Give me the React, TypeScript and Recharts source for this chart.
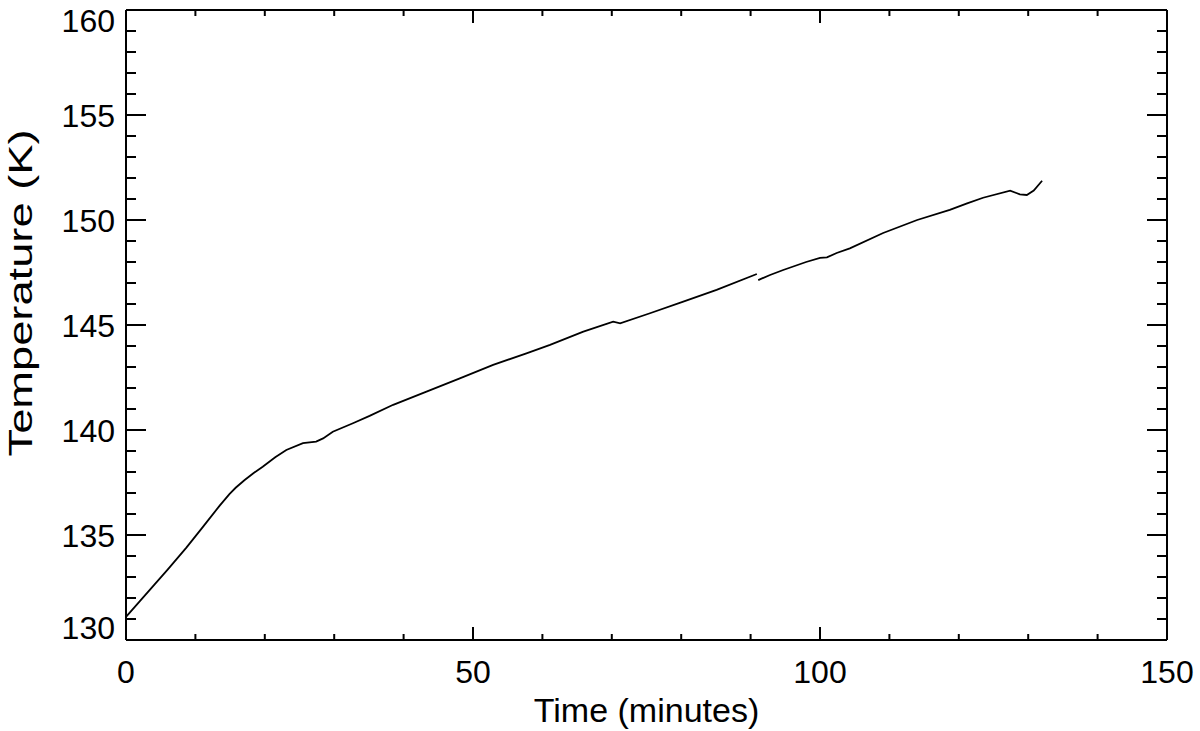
import { Line, LineChart, XAxis, YAxis } from "recharts";

// time (minutes) and temperature (K); null = gap in the record
const TIME_MIN = [
  0, 2, 4, 6, 8.7, 11, 13.5, 14.9, 15.8, 17.1, 18.4, 19.7, 21.5, 23.1, 25.5, 27.4, 28.4,
  29.8, 32.7, 35.1, 38.5, 43.3, 48.1, 52.9, 57.7, 61.1, 65.9, 70.2, 71.2, 75.5, 80.3,
  85.1, 90.9, 91.0, 91.1, 92.8, 94.7, 98, 100, 101, 102.4, 104.3, 109.1, 114, 118.7,
  121.2, 123.5, 127.4, 128.8, 129.8, 130.8, 132,
];
const TEMP_K: (number | null)[] = [
  131.1, 131.85, 132.6, 133.35, 134.4, 135.35, 136.4, 136.95, 137.25, 137.62, 137.95,
  138.25, 138.7, 139.05, 139.37, 139.45, 139.6, 139.92, 140.32, 140.67, 141.2, 141.83,
  142.46, 143.1, 143.65, 144.05, 144.68, 145.16, 145.08, 145.56, 146.11, 146.67, 147.43,
  null, 147.14, 147.38, 147.62, 148.0, 148.2, 148.22, 148.43, 148.65, 149.38, 150.0,
  150.48, 150.79, 151.06, 151.4, 151.22, 151.19, 151.4, 151.87,
];

const X_TICKS = [0, 10, 20, 30, 40, 50, 60, 70, 80, 90, 100, 110, 120, 130, 140, 150];
const X_MAJOR = [0, 50, 100, 150];
const Y_TICKS = [
  130, 131, 132, 133, 134, 135, 136, 137, 138, 139, 140, 141, 142, 143, 144, 145,
  146, 147, 148, 149, 150, 151, 152, 153, 154, 155, 156, 157, 158, 159, 160,
];
const Y_MAJOR = [130, 135, 140, 145, 150, 155, 160];

const data = TIME_MIN.map((t, i) => ({ t, temp: TEMP_K[i] }));

const FONT = "'Liberation Sans', Arial, Helvetica, sans-serif";
const INK = "#000";

function BottomTick({ x, y, payload }: any) {
  const major = X_MAJOR.includes(payload.value);
  return (
    <g>
      <line x1={x} x2={x} y1={y} y2={y - (major ? 13 : 6)} stroke={INK} strokeWidth={2} />
      {major && (
        <text x={x} y={y + 43} textAnchor="middle" fontSize={32} fontFamily={FONT} fill={INK}>
          {payload.value}
        </text>
      )}
    </g>
  );
}

function TopTick({ x, y, payload }: any) {
  const major = X_MAJOR.includes(payload.value);
  return <line x1={x} x2={x} y1={y} y2={y + (major ? 13 : 6)} stroke={INK} strokeWidth={2} />;
}

function LeftTick({ x, y, payload }: any) {
  const v = payload.value;
  const major = Y_MAJOR.includes(v);
  // edge labels are nudged inside the frame, like the original
  let base = y + 12;
  if (v === 160) base = y + 22;
  if (v === 130) base = y - 1;
  return (
    <g>
      <line x1={x} x2={x + (major ? 20 : 10)} y1={y} y2={y} stroke={INK} strokeWidth={2} />
      {major && (
        <text x={x - 11} y={base} textAnchor="end" fontSize={32} fontFamily={FONT} fill={INK}>
          {v}
        </text>
      )}
    </g>
  );
}

function RightTick({ x, y, payload }: any) {
  const major = Y_MAJOR.includes(payload.value);
  return <line x1={x} x2={x - (major ? 20 : 10)} y1={y} y2={y} stroke={INK} strokeWidth={2} />;
}

function XTitle({ viewBox }: any) {
  return (
    <text x={viewBox.x + viewBox.width / 2} y={viewBox.y + 82} textAnchor="middle" fontSize={34} fontFamily={FONT} fill={INK}>
      Time (minutes)
    </text>
  );
}

function YTitle({ viewBox }: any) {
  const cx = 20;
  const cy = viewBox.y + 283;
  return (
    <text
      x={cx}
      y={cy}
      transform={`rotate(-90 ${cx} ${cy})`}
      textAnchor="middle"
      dominantBaseline="central"
      fontSize={33}
      fontFamily={FONT}
      fill={INK}
      textLength={327}
      lengthAdjust="spacingAndGlyphs"
    >
      Temperature (K)
    </text>
  );
}

export default function App() {
  return (
    <div style={{ position: "absolute", left: 0, top: 0, background: "#fff" }}>
      <LineChart width={1200} height={731} data={data} margin={{ top: 9, right: 32, left: 0, bottom: 0 }}>
        <XAxis
          dataKey="t"
          type="number"
          domain={[0, 150]}
          ticks={X_TICKS}
          interval={0}
          height={91}
          tickSize={0}
          tickMargin={0}
          tick={<BottomTick />}
          axisLine={{ stroke: INK, strokeWidth: 2 }}
          label={<XTitle />}
        />
        <XAxis
          xAxisId="top"
          orientation="top"
          dataKey="t"
          type="number"
          domain={[0, 150]}
          ticks={X_TICKS}
          interval={0}
          height={1}
          tickSize={0}
          tickMargin={0}
          tick={<TopTick />}
          axisLine={{ stroke: INK, strokeWidth: 2 }}
        />
        <YAxis
          type="number"
          domain={[130, 160]}
          ticks={Y_TICKS}
          interval={0}
          width={126}
          tickSize={0}
          tickMargin={0}
          tick={<LeftTick />}
          axisLine={{ stroke: INK, strokeWidth: 2 }}
          label={<YTitle />}
        />
        <YAxis
          yAxisId="right"
          orientation="right"
          type="number"
          domain={[130, 160]}
          ticks={Y_TICKS}
          interval={0}
          width={1}
          tickSize={0}
          tickMargin={0}
          tick={<RightTick />}
          axisLine={{ stroke: INK, strokeWidth: 2 }}
        />
        <Line
          type="linear"
          dataKey="temp"
          stroke={INK}
          strokeWidth={1.8}
          dot={false}
          connectNulls={false}
          isAnimationActive={false}
        />
        {/* invisible copy so the mirrored top/right axes get their ticks */}
        <Line
          xAxisId="top"
          yAxisId="right"
          type="linear"
          dataKey="temp"
          stroke="none"
          dot={false}
          activeDot={false}
          legendType="none"
          isAnimationActive={false}
        />
      </LineChart>
    </div>
  );
}
